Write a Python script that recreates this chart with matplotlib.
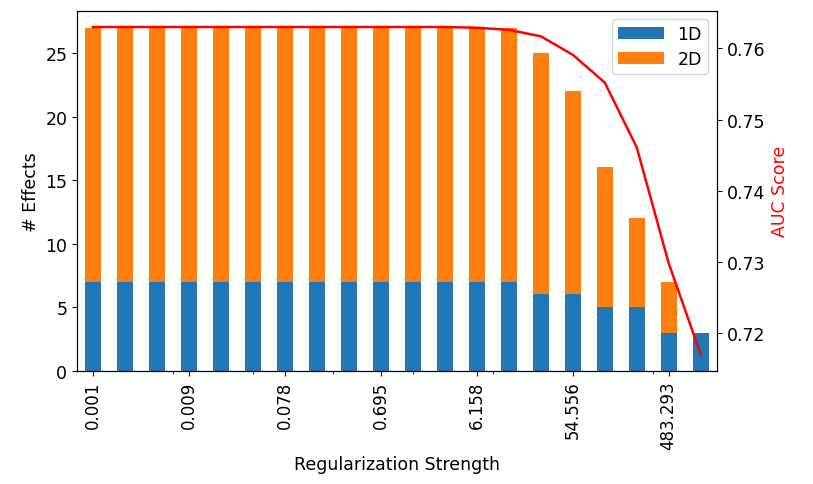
import matplotlib
matplotlib.use('Agg')
import matplotlib.pyplot as plt
from matplotlib.ticker import MultipleLocator
import numpy as np

matplotlib.rc('font', family='DejaVu Sans', size=12.5)

# regularization strengths (20 steps, log spaced 1e-3 .. 1e3)
strengths = [0.001, 0.002, 0.004, 0.009, 0.018, 0.038, 0.078, 0.162, 0.336,
             0.695, 1.438, 2.976, 6.158, 12.743, 26.367, 54.556, 112.884,
             233.572, 483.293, 1000.0]
n_1d = [7, 7, 7, 7, 7, 7, 7, 7, 7, 7, 7, 7, 7, 7, 6, 6, 5, 5, 3, 3]
n_2d = [20, 20, 20, 20, 20, 20, 20, 20, 20, 20, 20, 20, 20, 20, 19, 16, 11, 7, 4, 0]
auc = [0.7630, 0.7630, 0.7630, 0.7630, 0.7630, 0.7630, 0.7630, 0.7630, 0.7630,
       0.7630, 0.7630, 0.7630, 0.7629, 0.7626, 0.7617, 0.7591, 0.7552, 0.7461,
       0.7298, 0.7170]

x = np.arange(len(strengths))
labels = ['%.3f' % s for s in strengths]

fig = plt.figure(figsize=(8.13, 4.85), dpi=100)
ax = fig.add_axes([0.0947, 0.2336, 0.7868, 0.7424])

ax.bar(x, n_1d, width=0.5, color='C0', label='1D')
ax.bar(x, n_2d, width=0.5, bottom=n_1d, color='C1', label='2D')
ax.set_xlim(-0.5, len(x) - 0.5)
ax.set_ylim(0, 28.35)
ax.set_xticks(x[::3])
ax.set_xticklabels(labels[::3], rotation=90, fontsize=12)
ax.xaxis.set_minor_locator(MultipleLocator(2.5))
ax.set_xlabel('Regularization Strength')
ax.set_ylabel('# Effects')
ax.legend(loc='upper right', handlelength=2.6, borderpad=0.35, labelspacing=0.4)

ax2 = ax.twinx()
ax2.plot(x, auc, color='red', linewidth=1.8)
ax2.set_ylabel('AUC Score', color='red')
ax2.set_yticks([0.72, 0.73, 0.74, 0.75, 0.76])

fig.savefig('out.png', dpi=100)
